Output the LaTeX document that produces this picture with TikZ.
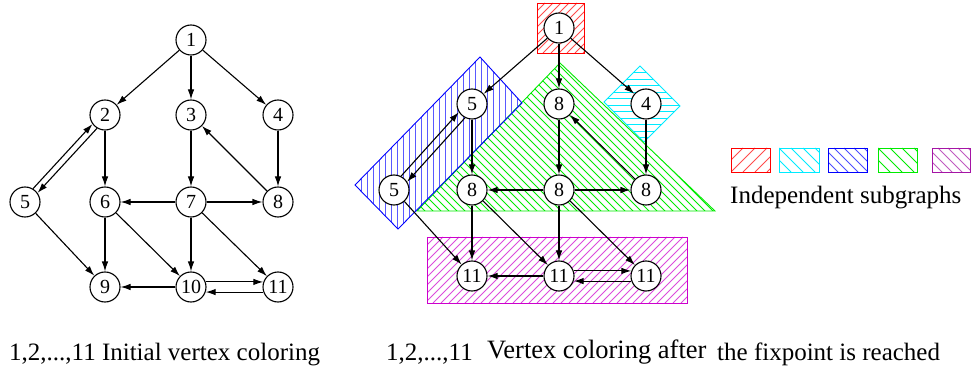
\documentclass[tikz,border=0pt]{standalone}
\usepackage{fontspec}
\setmainfont{Liberation Serif}
\usetikzlibrary{arrows.meta}
\definecolor{hatchred}{RGB}{255,0,0}
\definecolor{hatchcyan}{RGB}{0,235,255}
\definecolor{hatchblue}{RGB}{0,0,255}
\definecolor{hatchgreen}{RGB}{0,235,0}
\definecolor{hatchmag}{RGB}{205,0,205}
\definecolor{legmag}{RGB}{165,20,165}
\begin{document}
\begin{tikzpicture}[x=1pt,y=-1pt,
  vtx/.style={circle,draw,fill=white,line width=1.1pt,minimum size=30pt,inner sep=0pt,
              font=\fontsize{20}{24}\selectfont},
  arr/.style={line width=1.1pt,-{Latex[length=10pt,width=6.5pt]}},
  lbl/.style={anchor=base west,inner sep=0pt,font=\fontsize{25}{30}\selectfont},
  hl/.style={color=#1,line width=0.9pt},
  bd/.style={color=#1,line width=0.9pt},
]
% white page background
\fill[white] (0,0) rectangle (971,371);
\useasboundingbox (0,0) rectangle (971,371);

% ---------- right graph: hatched subgraph regions ----------
% cyan square round vertex 4: horizontal hatching
\begin{scope}
  \clip (640,66) -- (680,106) -- (644,142) -- (604,102) -- cycle;
  \draw[hl=hatchcyan] \foreach \y in {66,72.5,...,142} {(600,\y) -- (684,\y)};
\end{scope}
\draw[bd=hatchcyan] (640,66) -- (680,106) -- (644,142) -- (604,102) -- cycle;
% green triangle: falling diagonal hatching
\begin{scope}
  \clip (560,63) -- (715,211) -- (417,211) -- cycle;
  \draw[hl=hatchgreen] \foreach \x in {269,277,...,715} {(\x,63) -- ++(148,148)};
\end{scope}
\draw[bd=hatchgreen] (560,63) -- (715,211) -- (417,211) -- cycle;
% blue tilted rectangle: vertical hatching
\begin{scope}
  \clip (480,57) -- (522,103) -- (398,229) -- (355,185) -- cycle;
  \draw[hl=hatchblue!65] \foreach \x in {355,361,...,522} {(\x,57) -- (\x,229)};
\end{scope}
\draw[bd=hatchblue] (480,57) -- (522,103) -- (398,229) -- (355,185) -- cycle;
% red square round vertex 1: rising diagonal hatching
\begin{scope}
  \clip (537,3) rectangle (584,53);
  \draw[hl=hatchred!70] \foreach \x in {487,495,...,584} {(\x,53) -- ++(50,-50)};
\end{scope}
\draw[bd=hatchred] (537,3) rectangle (584,53);
% magenta band along the bottom row: rising diagonal hatching
\begin{scope}
  \clip (427,237) rectangle (687,303);
  \draw[hl=hatchmag!70] \foreach \x in {361,369,...,687} {(\x,303) -- ++(66,-66)};
\end{scope}
\draw[bd=hatchmag] (427,237) rectangle (687,303);

% ---------- legend ----------
\begin{scope}
  \clip (731,148) rectangle (770,172);
  \draw[hl=hatchred!70] \foreach \x in {707,719,...,770} {(\x,172) -- ++(24,-24)};
\end{scope}
\draw[bd=hatchred] (731,148) rectangle (770,172);
\begin{scope}
  \clip (779,148) rectangle (819,172);
  \draw[hl=hatchcyan] \foreach \x in {755,767,...,819} {(\x,148) -- ++(24,24)};
\end{scope}
\draw[bd=hatchcyan] (779,148) rectangle (819,172);
\begin{scope}
  \clip (828,148) rectangle (867,172);
  \draw[hl=hatchblue!70] \foreach \x in {804,814,...,867} {(\x,148) -- ++(24,24)};
\end{scope}
\draw[bd=hatchblue] (828,148) rectangle (867,172);
\begin{scope}
  \clip (878,148) rectangle (917,172);
  \draw[hl=hatchgreen] \foreach \x in {854,866,...,917} {(\x,148) -- ++(24,24)};
\end{scope}
\draw[bd=hatchgreen] (878,148) rectangle (917,172);
\begin{scope}
  \clip (932,148) rectangle (970,172);
  \draw[hl=legmag!70] \foreach \x in {908,918,...,970} {(\x,148) -- ++(24,24)};
\end{scope}
\draw[bd=legmag] (932,148) rectangle (970,172);
\node[lbl] (leg) at (730,204) {Independent subgraphs};

% ---------- left graph: initial colouring ----------
\node[vtx] (L1)  at (191,40)  {1};
\node[vtx] (L2)  at (105,115) {2};
\node[vtx] (L3)  at (191,115) {3};
\node[vtx] (L4)  at (278,115) {4};
\node[vtx] (L5)  at (25,202)  {5};
\node[vtx] (L6)  at (105,202) {6};
\node[vtx] (L7)  at (191,202) {7};
\node[vtx] (L8)  at (278,202) {8};
\node[vtx] (L9)  at (105,287) {9};
\node[vtx] (L10) at (191,287) {10};
\node[vtx] (L11) at (278,287) {11};

\draw[arr] (L1) -- (L2);
\draw[arr] (L1) -- (L3);
\draw[arr] (L1) -- (L4);
\draw[arr] (L2) -- (L6);
\draw[arr] (L3) -- (L7);
\draw[arr] (L4) -- (L8);
\draw[arr] (L8) -- (L3);
\draw[arr] (L7) -- (L6);
\draw[arr] (L7) -- (L8);
\draw[arr] (L5) -- (L9);
\draw[arr] (L6) -- (L9);
\draw[arr] (L6) -- (L10);
\draw[arr] (L7) -- (L10);
\draw[arr] (L7) -- (L11);
\draw[arr] (L10) -- (L9);
\draw[arr] (L5.59) -- (L2.216);
\draw[arr] (L2.239) -- (L5.36);
\draw[arr] (L10.19) -- (L11.161);
\draw[arr] (L11.199) -- (L10.341);

% ---------- right graph: colouring at the fixpoint ----------
\node[vtx] (R1)   at (559,28)  {1};
\node[vtx] (R5t)  at (472,104) {5};
\node[vtx] (R8t)  at (559,104) {8};
\node[vtx] (R4)   at (646,104) {4};
\node[vtx] (R5b)  at (394,190) {5};
\node[vtx] (R8l)  at (472,190) {8};
\node[vtx] (R8m)  at (559,190) {8};
\node[vtx] (R8r)  at (646,190) {8};
\node[vtx] (R11l) at (472,276) {11};
\node[vtx] (R11m) at (559,276) {11};
\node[vtx] (R11r) at (646,276) {11};

\draw[arr] (R1) -- (R5t);
\draw[arr] (R1) -- (R8t);
\draw[arr] (R1) -- (R4);
\draw[arr] (R5t) -- (R8l);
\draw[arr] (R8t) -- (R8m);
\draw[arr] (R4) -- (R8r);
\draw[arr] (R8r) -- (R8t);
\draw[arr] (R8m) -- (R8l);
\draw[arr] (R8m) -- (R8r);
\draw[arr] (R5b) -- (R11l);
\draw[arr] (R8l) -- (R11l);
\draw[arr] (R8l) -- (R11m);
\draw[arr] (R8m) -- (R11m);
\draw[arr] (R8m) -- (R11r);
\draw[arr] (R11m) -- (R11l);
\draw[arr] (R5b.63) -- (R5t.212);
\draw[arr] (R5t.243) -- (R5b.32);
\draw[arr] (R11m.19) -- (R11r.161);
\draw[arr] (R11r.199) -- (R11m.341);

% ---------- captions ----------
\node[lbl] (capL)  at (9,360)   {1,2,...,11 Initial vertex coloring};
\node[lbl] (capRn) at (386,360) {1,2,...,11};
\node[lbl,font=\fontsize{26.5}{30}\selectfont] (capRa) at (487,358) {Vertex coloring after};
\node[lbl] (capRb) at (717,360) {the fixpoint is reached};
\end{tikzpicture}
\end{document}
